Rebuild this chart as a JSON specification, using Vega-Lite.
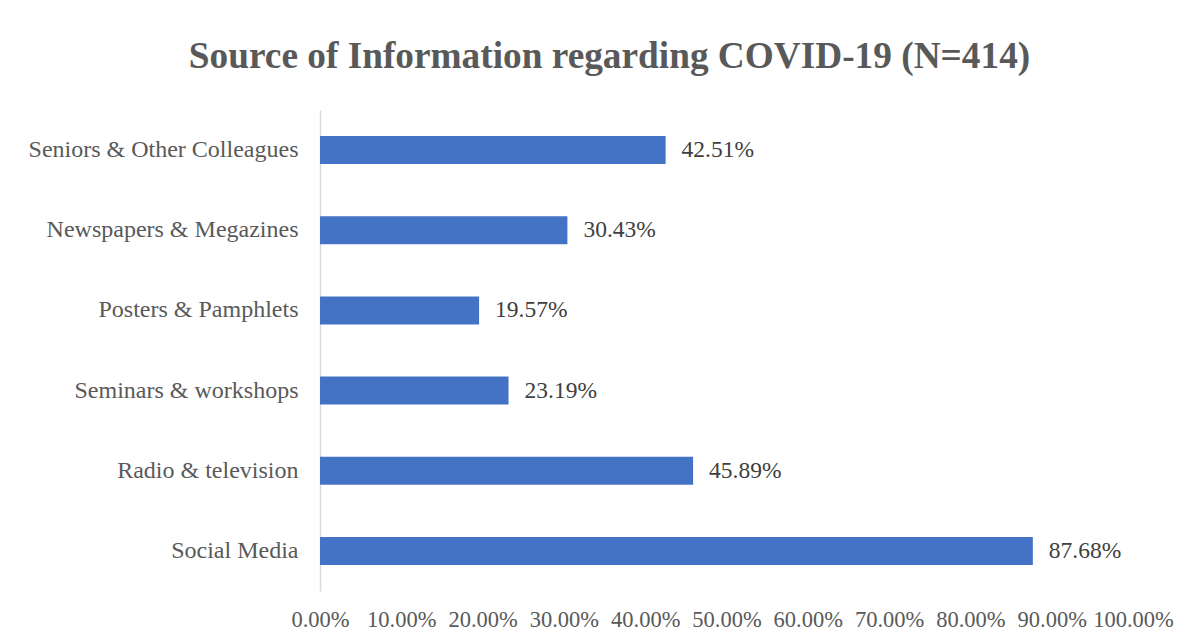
{
  "$schema": "https://vega.github.io/schema/vega-lite/v6.json",
  "autosize": "none",
  "width": 813,
  "height": 481,
  "padding": {"left": 320, "top": 110, "right": 58, "bottom": 49},
  "background": "white",
  "title": {
    "text": "Source of Information regarding COVID-19 (N=414)",
    "font": "Liberation Serif",
    "fontSize": 37.3,
    "fontWeight": "bold",
    "color": "#595959",
    "anchor": "middle",
    "frame": "group",
    "dx": -117,
    "baseline": "alphabetic",
    "offset": 5
  },
  "data": {
    "values": [
      {"source": "Seniors & Other Colleagues", "pct": 0.4251},
      {"source": "Newspapers & Megazines", "pct": 0.3043},
      {"source": "Posters & Pamphlets", "pct": 0.1957},
      {"source": "Seminars & workshops", "pct": 0.2319},
      {"source": "Radio & television", "pct": 0.4589},
      {"source": "Social Media", "pct": 0.8768}
    ]
  },
  "encoding": {
    "y": {
      "field": "source",
      "type": "nominal",
      "sort": null,
      "scale": {"paddingInner": 0.65, "paddingOuter": 0.325},
      "axis": {
        "title": null,
        "ticks": false,
        "domainColor": "#d9d9d9",
        "domainWidth": 1.5,
        "labelFont": "Liberation Serif",
        "labelFontSize": 24,
        "labelColor": "#595959",
        "labelPadding": 22,
        "labelLimit": 400
      }
    },
    "x": {
      "field": "pct",
      "type": "quantitative",
      "scale": {"domain": [0, 1]},
      "axis": {
        "title": null,
        "format": ".2%",
        "values": [0, 0.1, 0.2, 0.3, 0.4, 0.5, 0.6, 0.7, 0.8, 0.9, 1],
        "grid": false,
        "domain": false,
        "ticks": false,
        "tickSize": 0,
        "labelFont": "Liberation Serif",
        "labelFontSize": 22.5,
        "labelColor": "#595959",
        "labelPadding": 17,
        "labelOverlap": false,
        "labelFlush": false,
        "labelBound": false
      }
    }
  },
  "layer": [
    {"mark": {"type": "bar", "color": "#4472C4"}},
    {
      "mark": {
        "type": "text",
        "align": "left",
        "baseline": "middle",
        "dx": 16,
        "font": "Liberation Serif",
        "fontSize": 23.5,
        "color": "#404040"
      },
      "encoding": {"text": {"field": "pct", "type": "quantitative", "format": ".2%"}}
    }
  ],
  "config": {"view": {"stroke": null}}
}
